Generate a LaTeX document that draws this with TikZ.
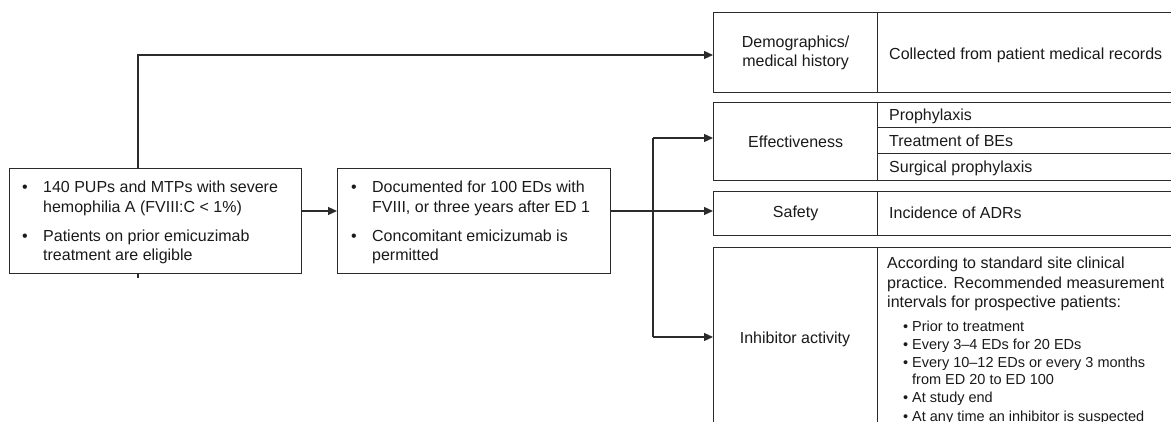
\documentclass[tikz,border=0pt]{standalone}
\usepackage{fontspec}
\setmainfont{Liberation Sans}
\usetikzlibrary{arrows.meta,backgrounds}
\definecolor{lc}{HTML}{2B2B2B}
\definecolor{tc}{HTML}{1A1A1A}
\begin{document}
\begin{tikzpicture}[x=1pt,y=-1pt,
  font=\fontsize{16}{19.3}\selectfont,
  cell/.style={draw=lc, line width=1.3pt, fill=white, inner sep=0, anchor=north west, text=tc, align=center},
  txt/.style={inner sep=0, anchor=base west, text=tc},
  arr/.style={draw=lc, line width=1.3pt, -{Triangle[length=9pt,width=8pt]}},
  ln/.style={draw=lc, line width=1.3pt}]
\useasboundingbox (0,0) rectangle (1171,422);
\clip (0,0) rectangle (1171,422);

% left boxes
\node[cell, minimum width=292pt, minimum height=105pt] (box1) at (9,168) {};
\node[cell, minimum width=273pt, minimum height=105pt] (box2) at (337,168) {};

\node[txt] (t1) at (22,193) {\parbox[t]{280pt}{%
\makebox[21pt][l]{•}140 PUPs and MTPs with severe\\
\hspace*{21pt}hemophilia A (FVIII:C < 1\%)\\[10pt]
\makebox[21pt][l]{•}Patients on prior emicuzimab\\
\hspace*{21pt}treatment are eligible}};

\node[txt] (t2) at (351,193) {\parbox[t]{260pt}{%
\makebox[21pt][l]{•}Documented for 100 EDs with\\
\hspace*{21pt}FVIII, or three years after ED 1\\[10pt]
\makebox[21pt][l]{•}Concomitant emicizumab is\\
\hspace*{21pt}permitted}};

% right table
\node[cell, minimum width=164pt, minimum height=80pt] (demoL) at (713,12) {Demographics/\\medical history};
\node[cell, minimum width=320pt, minimum height=80pt] (demoR) at (877,12) {};
\node[txt] (t3) at (889,60) {Collected from patient medical records};

\node[cell, minimum width=164pt, minimum height=78pt] (effL) at (713,102) {Effectiveness};
\node[cell, minimum width=320pt, minimum height=25pt] (effA) at (877,102) {};
\node[cell, minimum width=320pt, minimum height=26pt] (effB) at (877,127) {};
\node[cell, minimum width=320pt, minimum height=27pt] (effC) at (877,153) {};
\node[txt] (t4) at (889,121) {Prophylaxis};
\node[txt] (t5) at (889,147) {Treatment of BEs};
\node[txt] (t6) at (889,173) {Surgical prophylaxis};

\node[cell, minimum width=164pt, minimum height=44pt] (safL) at (713,191) {Safety};
\node[cell, minimum width=320pt, minimum height=44pt] (safR) at (877,191) {};
\node[txt] (t7) at (889,219) {Incidence of ADRs};

\node[cell, minimum width=164pt, minimum height=200pt] (inhL) at (713,247) {};
\node[cell, minimum width=320pt, minimum height=200pt] (inhR) at (877,247) {};
\node[txt, anchor=base] (t8) at (795,343) {Inhibitor activity};
\node[txt] (t9) at (887,269) {\parbox[t]{290pt}{%
According to standard site clinical\\
practice. Recommended measurement\\
intervals for prospective patients:}};
\node[txt] (t10) at (903,331) {\parbox[t]{280pt}{\fontsize{14.5}{18}\selectfont
\makebox[9pt][l]{•}Prior to treatment\\
\makebox[9pt][l]{•}Every 3–4 EDs for 20 EDs\\
\makebox[9pt][l]{•}Every 10–12 EDs or every 3 months\\
\hspace*{9pt}from ED 20 to ED 100\\
\makebox[9pt][l]{•}At study end\\
\makebox[9pt][l]{•}At any time an inhibitor is suspected}};

% connectors
\coordinate (tstub) at (138,278);
\coordinate (ttop) at (138,55);
\coordinate (mid) at (0,211);
\coordinate (beff) at (653,138);
\coordinate (binh) at (653,337);
\begin{scope}[on background layer]
\draw[arr] (tstub) -- (ttop) -- (demoL.west |- ttop);
\end{scope}
\draw[arr] (box1.east |- mid) -- (box2.west |- mid);
\draw[arr] (box2.east |- mid) -- (safL.west |- mid);
\draw[arr] (beff) -- (effL.west |- beff);
\draw[ln] (beff) -- (binh);
\draw[arr] (binh) -- (inhL.west |- binh);
\end{tikzpicture}
\end{document}
